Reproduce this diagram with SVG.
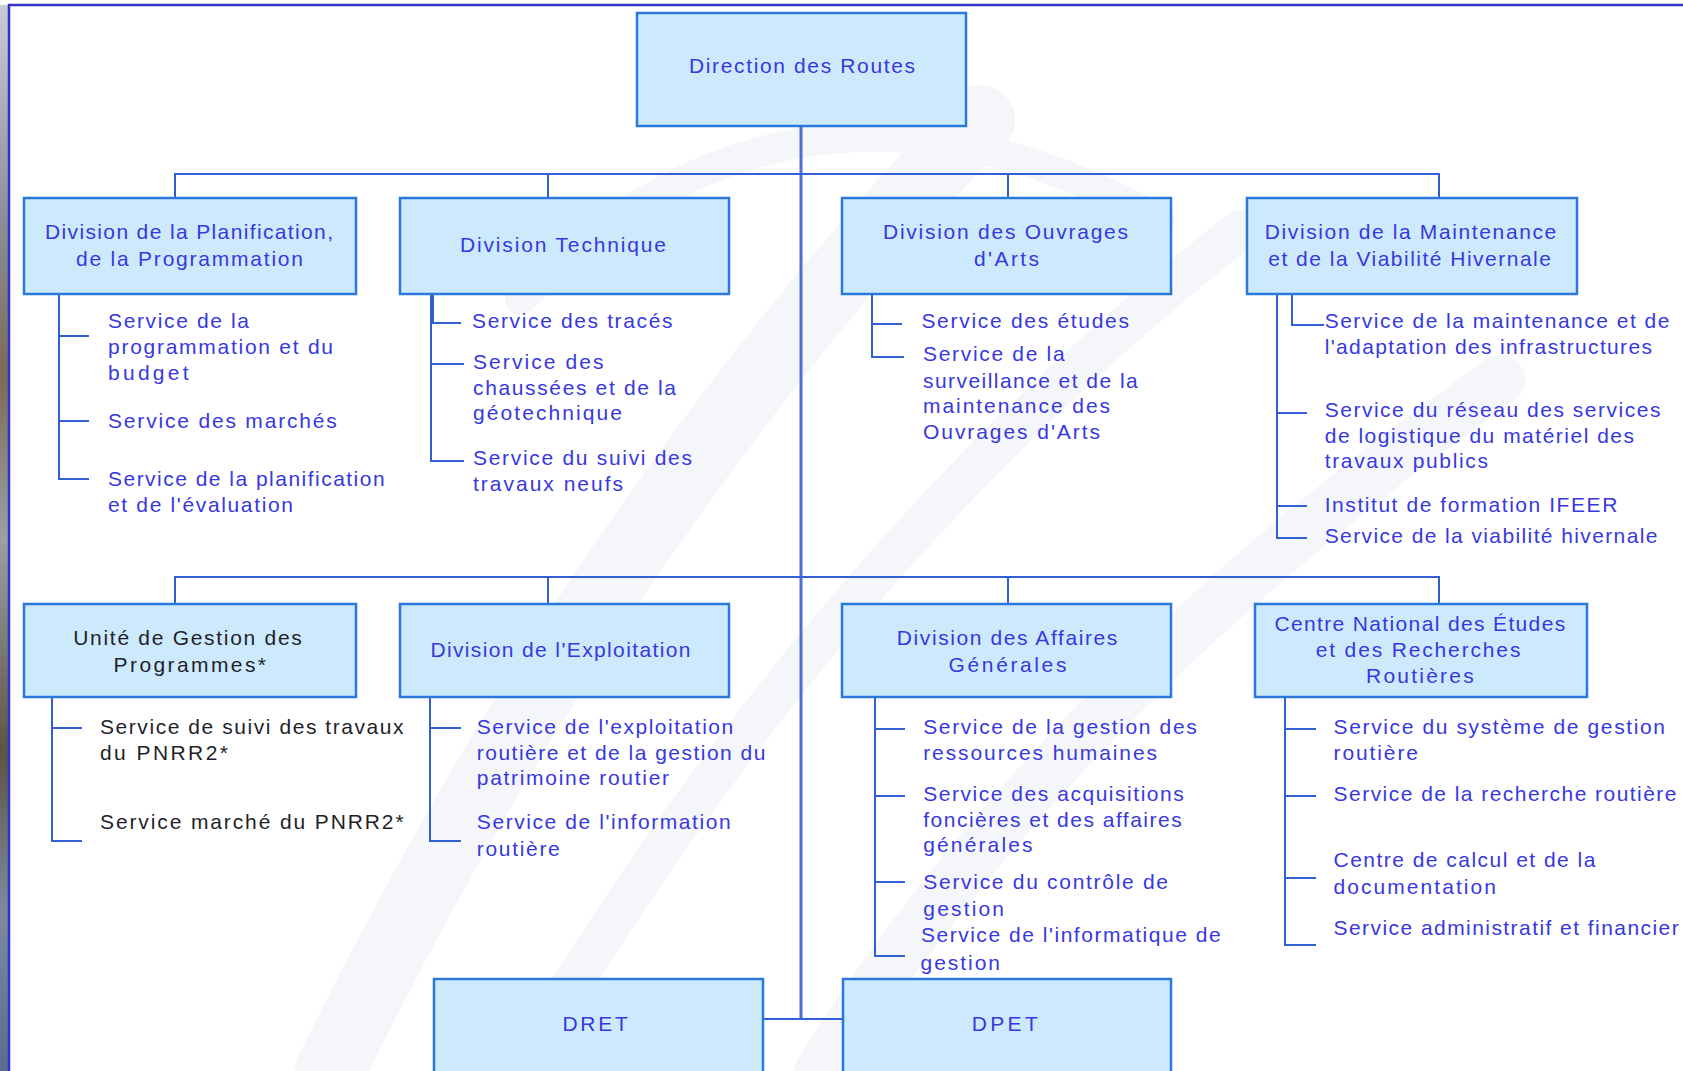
<svg xmlns="http://www.w3.org/2000/svg" width="1683" height="1071" viewBox="0 0 1683 1071">
<defs>
<style>
.box{fill:#cdeafc;stroke:#2b78dc;stroke-width:2.5}
.t{font-family:"Liberation Sans",Arial,sans-serif;font-size:21px;fill:#3838de}
.d{fill:#1f1f2b}
.c{fill:none;stroke:#3260d4;stroke-width:2}
.wm{fill:none;stroke:#f5f6f9;stroke-linecap:round}
</style>
<linearGradient id="photo" x1="0" y1="0" x2="0" y2="1">
<stop offset="0" stop-color="#c8ccd4"/>
<stop offset="0.2" stop-color="#8a8f98"/>
<stop offset="0.35" stop-color="#7b6a55"/>
<stop offset="0.5" stop-color="#9aa0a6"/>
<stop offset="0.7" stop-color="#5d5444"/>
<stop offset="0.85" stop-color="#7c8aa0"/>
<stop offset="1" stop-color="#5a6d90"/>
</linearGradient>
</defs>
<rect x="0" y="0" width="1683" height="1071" fill="#ffffff"/>
<g id="watermark">
<path class="wm" d="M330 1071 Q600 520 980 120" stroke-width="70"/>
<path class="wm" d="M520 1071 Q820 560 1240 230" stroke-width="40"/>
<path class="wm" d="M820 1071 Q1050 700 1500 380" stroke-width="50"/>
<path class="wm" d="M520 300 Q800 20 1160 220" stroke-width="30"/>
</g>
<rect x="0" y="5" width="8" height="1066" fill="url(#photo)"/>
<path d="M9 1071 V5 H1683" fill="none" stroke="#3434c8" stroke-width="2.5"/>

<g id="connectors">
<line x1="801" y1="126" x2="801" y2="1019" stroke="#4a6fd6" stroke-width="3"/>
<path class="c" d="M175 197 V174 H1439 V197 M548 174 V197 M1008 174 V197"/>
<path class="c" d="M175 604 V577 H1439 V604 M548 577 V604 M1008 577 V604"/>
<path class="c" d="M763 1019 H843"/>
<path class="c" d="M59 294 V479 H89 M59 336 H89 M59 421 H89"/>
<path class="c" d="M431 294 V461 H464 M431 323 H461 M431 364 H464"/>
<path class="c" d="M433 294 V323" stroke-width="3"/>
<path class="c" d="M872 294 V357 H904 M872 324 H902"/>
<path class="c" d="M1277 294 V538 H1307 M1277 413 H1307 M1277 506 H1307 M1292 294 V325 H1324"/>
<path class="c" d="M52 697 V841 H82 M52 728 H82"/>
<path class="c" d="M430 697 V841 H461 M430 728 H461"/>
<path class="c" d="M875 697 V956 H905 M875 729 H905 M875 796 H905 M875 882 H905"/>
<path class="c" d="M1285 697 V945 H1316 M1285 729 H1316 M1285 796 H1316 M1285 878 H1316"/>
</g>

<g id="direction">
<rect class="box" x="637" y="13" width="329" height="113"/>
<text class="t" x="689" y="73" textLength="226" lengthAdjust="spacing">Direction des Routes</text>
</g>

<g id="div-planification">
<rect class="box" x="24" y="198" width="332" height="96"/>
<text class="t" x="45" y="238.5" textLength="288" lengthAdjust="spacing">Division de la Planification,</text>
<text class="t" x="76" y="265.5" textLength="227" lengthAdjust="spacing">de la Programmation</text>
</g>
<g id="svc-planification">
<text class="t" x="108" y="328" textLength="141" lengthAdjust="spacing">Service de la</text>
<text class="t" x="108" y="354" textLength="225" lengthAdjust="spacing">programmation et du</text>
<text class="t" x="108" y="379.5" textLength="80.6" lengthAdjust="spacing">budget</text>
<text class="t" x="108" y="427.5" textLength="228.8" lengthAdjust="spacing">Service des marchés</text>
<text class="t" x="108" y="486" textLength="276.6" lengthAdjust="spacing">Service de la planification</text>
<text class="t" x="108" y="512" textLength="185" lengthAdjust="spacing">et de l'évaluation</text>
</g>

<g id="div-technique">
<rect class="box" x="400" y="198" width="329" height="96"/>
<text class="t" x="460" y="252" textLength="206" lengthAdjust="spacing">Division Technique</text>
</g>
<g id="svc-technique">
<text class="t" x="472" y="328" textLength="200.5" lengthAdjust="spacing">Service des tracés</text>
<text class="t" x="473" y="369" textLength="130.6" lengthAdjust="spacing">Service des</text>
<text class="t" x="473" y="395" textLength="203" lengthAdjust="spacing">chaussées et de la</text>
<text class="t" x="473" y="419.5" textLength="149" lengthAdjust="spacing">géotechnique</text>
<text class="t" x="473" y="465" textLength="219" lengthAdjust="spacing">Service du suivi des</text>
<text class="t" x="473" y="491" textLength="150" lengthAdjust="spacing">travaux neufs</text>
</g>

<g id="div-ouvrages">
<rect class="box" x="842" y="198" width="329" height="96"/>
<text class="t" x="883" y="238.5" textLength="245" lengthAdjust="spacing">Division des Ouvrages</text>
<text class="t" x="974" y="265.5" textLength="65" lengthAdjust="spacing">d'Arts</text>
</g>
<g id="svc-ouvrages">
<text class="t" x="921.4" y="328" textLength="207.6" lengthAdjust="spacing">Service des études</text>
<text class="t" x="923" y="361" textLength="141.6" lengthAdjust="spacing">Service de la</text>
<text class="t" x="923" y="387.5" textLength="214.7" lengthAdjust="spacing">surveillance et de la</text>
<text class="t" x="923" y="413" textLength="187" lengthAdjust="spacing">maintenance des</text>
<text class="t" x="923" y="439" textLength="177" lengthAdjust="spacing">Ouvrages d'Arts</text>
</g>

<g id="div-maintenance">
<rect class="box" x="1247" y="198" width="330" height="96"/>
<text class="t" x="1264.7" y="238.5" textLength="291.6" lengthAdjust="spacing">Division de la Maintenance</text>
<text class="t" x="1268.3" y="265.5" textLength="282.6" lengthAdjust="spacing">et de la Viabilité Hivernale</text>
</g>
<g id="svc-maintenance">
<text class="t" x="1324.7" y="328" textLength="344.7" lengthAdjust="spacing">Service de la maintenance et de</text>
<text class="t" x="1324.7" y="354" textLength="327.3" lengthAdjust="spacing">l'adaptation des infrastructures</text>
<text class="t" x="1324.7" y="416.7" textLength="335.7" lengthAdjust="spacing">Service du réseau des services</text>
<text class="t" x="1324.7" y="442.7" textLength="309.3" lengthAdjust="spacing">de logistique du matériel des</text>
<text class="t" x="1324.7" y="468" textLength="163.3" lengthAdjust="spacing">travaux publics</text>
<text class="t" x="1324.7" y="512" textLength="292.6" lengthAdjust="spacing">Institut de formation IFEER</text>
<text class="t" x="1324.7" y="542.5" textLength="332.8" lengthAdjust="spacing">Service de la viabilité hivernale</text>
</g>

<g id="ugp">
<rect class="box" x="24" y="604" width="332" height="93"/>
<text class="t d" x="73.2" y="645" textLength="228.6" lengthAdjust="spacing">Unité de Gestion des</text>
<text class="t d" x="113.6" y="671.7" textLength="152.4" lengthAdjust="spacing">Programmes*</text>
</g>
<g id="svc-ugp">
<text class="t d" x="100" y="734" textLength="303.6" lengthAdjust="spacing">Service de suivi des travaux</text>
<text class="t d" x="100" y="760" textLength="128" lengthAdjust="spacing">du PNRR2*</text>
<text class="t d" x="100" y="829.3" textLength="303.6" lengthAdjust="spacing">Service marché du PNRR2*</text>
</g>

<g id="div-exploitation">
<rect class="box" x="400" y="604" width="329" height="93"/>
<text class="t" x="430.4" y="656.7" textLength="260" lengthAdjust="spacing">Division de l'Exploitation</text>
</g>
<g id="svc-exploitation">
<text class="t" x="476.8" y="734" textLength="256.4" lengthAdjust="spacing">Service de l'exploitation</text>
<text class="t" x="476.8" y="760" textLength="288.6" lengthAdjust="spacing">routière et de la gestion du</text>
<text class="t" x="476.8" y="785" textLength="192.2" lengthAdjust="spacing">patrimoine routier</text>
<text class="t" x="476.8" y="829.3" textLength="253.9" lengthAdjust="spacing">Service de l'information</text>
<text class="t" x="476.8" y="856" textLength="83" lengthAdjust="spacing">routière</text>
</g>

<g id="div-affaires">
<rect class="box" x="842" y="604" width="329" height="93"/>
<text class="t" x="896.8" y="645" textLength="220.5" lengthAdjust="spacing">Division des Affaires</text>
<text class="t" x="948.6" y="671.7" textLength="117.8" lengthAdjust="spacing">Générales</text>
</g>
<g id="svc-affaires">
<text class="t" x="923.2" y="734" textLength="273.5" lengthAdjust="spacing">Service de la gestion des</text>
<text class="t" x="923.2" y="760" textLength="233.8" lengthAdjust="spacing">ressources humaines</text>
<text class="t" x="923.2" y="800.7" textLength="260.6" lengthAdjust="spacing">Service des acquisitions</text>
<text class="t" x="923.2" y="826.7" textLength="258.5" lengthAdjust="spacing">foncières et des affaires</text>
<text class="t" x="923.2" y="851.7" textLength="109.3" lengthAdjust="spacing">générales</text>
<text class="t" x="923.3" y="889.3" textLength="244.7" lengthAdjust="spacing">Service du contrôle de</text>
<text class="t" x="923.3" y="915.5" textLength="80.7" lengthAdjust="spacing">gestion</text>
<text class="t" x="920.9" y="942" textLength="299.7" lengthAdjust="spacing">Service de l'informatique de</text>
<text class="t" x="920.6" y="970" textLength="79.4" lengthAdjust="spacing">gestion</text>
</g>

<g id="cnerr">
<rect class="box" x="1255" y="604" width="332" height="93"/>
<text class="t" x="1274.4" y="630.7" textLength="290.8" lengthAdjust="spacing">Centre National des Études</text>
<text class="t" x="1315.7" y="657.3" textLength="204.7" lengthAdjust="spacing">et des Recherches</text>
<text class="t" x="1366" y="682.7" textLength="107.7" lengthAdjust="spacing">Routières</text>
</g>
<g id="svc-cnerr">
<text class="t" x="1333.6" y="734" textLength="331.4" lengthAdjust="spacing">Service du système de gestion</text>
<text class="t" x="1333.6" y="760" textLength="84.4" lengthAdjust="spacing">routière</text>
<text class="t" x="1333.6" y="800.7" textLength="342.9" lengthAdjust="spacing">Service de la recherche routière</text>
<text class="t" x="1333.5" y="866.5" textLength="261.9" lengthAdjust="spacing">Centre de calcul et de la</text>
<text class="t" x="1333.5" y="893.5" textLength="162.5" lengthAdjust="spacing">documentation</text>
<text class="t" x="1333.5" y="935" textLength="345.2" lengthAdjust="spacing">Service administratif et financier</text>
</g>

<g id="dret">
<rect class="box" x="434" y="979" width="329" height="100"/>
<text class="t" x="562.4" y="1030.5" textLength="65.4" lengthAdjust="spacing">DRET</text>
</g>
<g id="dpet">
<rect class="box" x="843" y="979" width="328" height="100"/>
<text class="t" x="971.7" y="1030.5" textLength="66.1" lengthAdjust="spacing">DPET</text>
</g>
</svg>
